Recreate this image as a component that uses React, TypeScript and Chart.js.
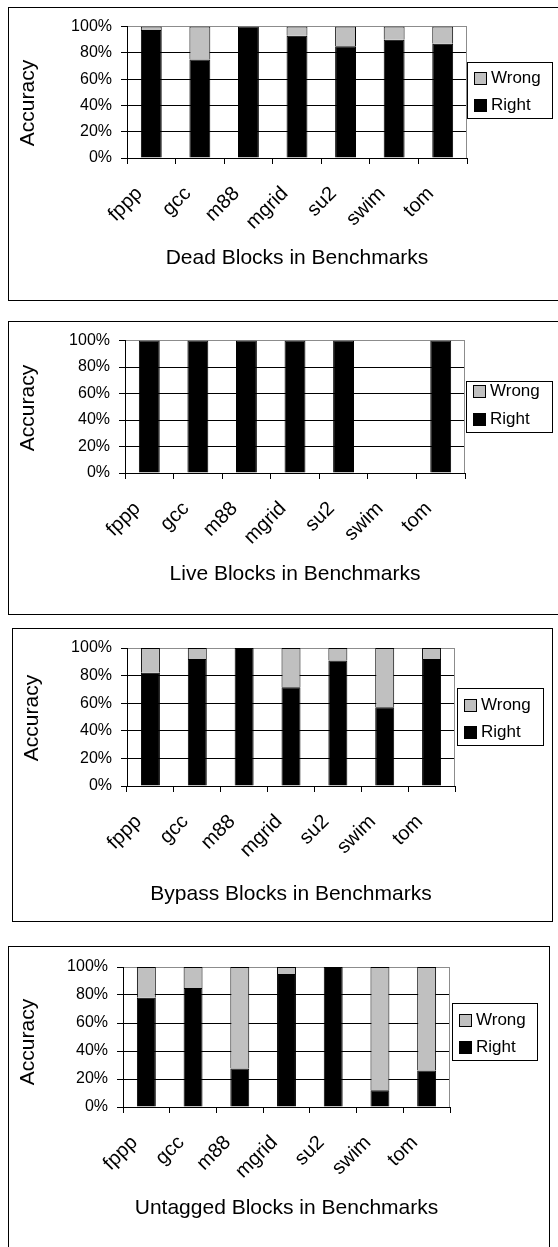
import React, { useEffect, useRef } from 'react';
import { Chart, registerables } from 'chart.js';

Chart.register(...registerables);

const FONT = '"Liberation Sans", Arial, Helvetica, sans-serif';

const categories = ['fppp', 'gcc', 'm88', 'mgrid', 'su2', 'swim', 'tom'];
const rightLabel = 'Right';
const wrongLabel = 'Wrong';
const yTicks = [0, 20, 40, 60, 80, 100];
const yAxisTitle = 'Accuracy';

const deadTitle = 'Dead Blocks in Benchmarks';
const deadRight = [97.5, 75, 100, 93, 85, 90, 87];
const deadWrong = [2.5, 25, 0, 7, 15, 10, 13];

const liveTitle = 'Live Blocks in Benchmarks';
const liveRight = [100, 100, 100, 100, 100, 0, 100];
const liveWrong = [0, 0, 0, 0, 0, 0, 0];

const bypassTitle = 'Bypass Blocks in Benchmarks';
const bypassRight = [82, 92, 100, 71.5, 91, 57, 92];
const bypassWrong = [18, 8, 0, 28.5, 9, 43, 8];

const untaggedTitle = 'Untagged Blocks in Benchmarks';
const untaggedRight = [78, 85, 27.5, 95, 100, 12, 26];
const untaggedWrong = [22, 15, 72.5, 5, 0, 88, 74];

const RIGHT_COLOR = '#000000';
const WRONG_COLOR = '#c0c0c0';
const PAGE_W = 558;
const PAGE_H = 1247;

type Rect = { l: number; t: number; r: number; b: number };
type Layout = {
  box: Rect;
  plot: Rect;
  legend: Rect & { row1: number; row2: number };
  yTitle: { x: number; y: number };
  titleY: number;
  barPct: number;
};

const layouts: Layout[] = [
  {
    box: { l: 8, t: 7, r: 570, b: 301 },
    plot: { l: 127, t: 25, r: 467, b: 158 },
    legend: { l: 467, t: 62, r: 552, b: 118, row1: 77.5, row2: 104.5 },
    yTitle: { x: 28, y: 103 },
    titleY: 258,
    barPct: 0.43,
  },
  {
    box: { l: 8, t: 321, r: 570, b: 615 },
    plot: { l: 125, t: 339, r: 465, b: 473 },
    legend: { l: 466, t: 381, r: 552, b: 432, row1: 390.5, row2: 418.5 },
    yTitle: { x: 28, y: 408 },
    titleY: 574,
    barPct: 0.43,
  },
  {
    box: { l: 12, t: 628, r: 553, b: 922 },
    plot: { l: 127, t: 648, r: 455, b: 786 },
    legend: { l: 457, t: 688, r: 543, b: 745, row1: 704.5, row2: 731.5 },
    yTitle: { x: 32, y: 718 },
    titleY: 894.5,
    barPct: 0.405,
  },
  {
    box: { l: 8, t: 946, r: 550, b: 1252 },
    plot: { l: 123, t: 967, r: 450, b: 1107 },
    legend: { l: 452, t: 1003, r: 537, b: 1060, row1: 1019.5, row2: 1046.5 },
    yTitle: { x: 28, y: 1042 },
    titleY: 1208,
    barPct: 0.405,
  },
];

const panels = [
  { title: deadTitle, right: deadRight, wrong: deadWrong },
  { title: liveTitle, right: liveRight, wrong: liveWrong },
  { title: bypassTitle, right: bypassRight, wrong: bypassWrong },
  { title: untaggedTitle, right: untaggedRight, wrong: untaggedWrong },
];

const decorPlugin = {
  id: 'decor',
  afterDraw(chart: any, _args: any, opts: any) {
    const ctx = chart.ctx as CanvasRenderingContext2D;
    const area = chart.chartArea;
    const { ox, oy, legend, yTitle } = opts;
    ctx.save();
    // gray plot border on the right
    ctx.strokeStyle = '#8c8c8c';
    ctx.lineWidth = 1;
    const rx = Math.round(area.right) - 0.5;
    ctx.beginPath();
    ctx.moveTo(rx, Math.round(area.top));
    ctx.lineTo(rx, Math.round(area.bottom));
    ctx.stroke();

    // y axis title
    ctx.fillStyle = '#000';
    ctx.font = `21px ${FONT}`;
    ctx.textAlign = 'center';
    ctx.textBaseline = 'middle';
    ctx.translate(yTitle.x - ox, yTitle.y - oy);
    ctx.rotate(-Math.PI / 2);
    ctx.fillText(yAxisTitle, 0, 0);
    ctx.restore();

    // legend box
    ctx.save();
    const lx = Math.round(legend.l - ox) + 0.5;
    const ly = Math.round(legend.t - oy) + 0.5;
    const lw = Math.round(legend.r - legend.l);
    const lh = Math.round(legend.b - legend.t);
    ctx.fillStyle = '#fff';
    ctx.fillRect(lx, ly, lw, lh);
    ctx.strokeStyle = '#000';
    ctx.lineWidth = 1;
    ctx.strokeRect(lx, ly, lw, lh);
    const items = [...chart.data.datasets].reverse();
    const rows = [legend.row1, legend.row2];
    ctx.font = `17px ${FONT}`;
    ctx.textAlign = 'left';
    ctx.textBaseline = 'middle';
    items.forEach((ds: any, i: number) => {
      const cy = rows[i] - oy;
      const sx = Math.round(legend.l - ox + 7) + 0.5;
      const sy = Math.round(cy - 6) + 0.5;
      ctx.fillStyle = ds.backgroundColor;
      ctx.fillRect(sx, sy, 12, 12);
      ctx.strokeStyle = '#000';
      ctx.strokeRect(sx, sy, 12, 12);
      ctx.fillStyle = '#000';
      ctx.fillText(ds.label, legend.l - ox + 24, cy + 1);
    });
    ctx.restore();
  },
};

function BarPanel({ title, right, wrong, layout }: { title: string; right: number[]; wrong: number[]; layout: Layout }) {
  const ref = useRef<HTMLCanvasElement | null>(null);
  const { box, plot, legend, yTitle, titleY, barPct } = layout;
  const cl = box.l + 1;
  const ct = box.t + 1;
  const cr = Math.min(box.r - 1, PAGE_W);
  const cb = Math.min(box.b - 1, PAGE_H);
  const W = cr - cl;
  const H = cb - ct;

  useEffect(() => {
    if (!ref.current) return;
    const titleSize = 21;
    const xAxisH = titleY + (titleSize * 1.2) / 2 - plot.b;
    const yAxisW = plot.l - cl;
    const padTop = plot.t - ct;
    const padRight = cr - plot.r;
    const padBottom = Math.max(0, cb - plot.b - xAxisH);

    const chart = new Chart(ref.current, {
      type: 'bar',
      data: {
        labels: categories,
        datasets: [
          {
            label: rightLabel,
            data: right,
            backgroundColor: RIGHT_COLOR,
            borderColor: '#000',
            borderWidth: 1,
            barPercentage: barPct,
            categoryPercentage: 1,
          },
          {
            label: wrongLabel,
            data: wrong,
            backgroundColor: WRONG_COLOR,
            borderColor: '#000',
            borderWidth: 1,
            barPercentage: barPct,
            categoryPercentage: 1,
          },
        ],
      },
      options: {
        responsive: false,
        animation: false,
        devicePixelRatio: 1,
        layout: { padding: { top: padTop, right: padRight, bottom: padBottom, left: 0 } },
        plugins: {
          legend: { display: false },
          tooltip: { enabled: false },
          title: { display: false },
          decor: { ox: cl, oy: ct, legend, yTitle },
        } as any,
        scales: {
          x: {
            stacked: true,
            offset: true,
            grid: {
              display: true,
              drawOnChartArea: false,
              drawTicks: true,
              tickLength: 6,
              color: '#000',
              lineWidth: 1,
              offset: true,
            },
            border: { display: true, color: '#000', width: 1 },
            ticks: {
              color: '#000',
              font: { family: FONT, size: 20 },
              minRotation: 45,
              maxRotation: 45,
              autoSkip: false,
              labelOffset: -12,
              padding: 18,
            },
            title: {
              display: true,
              text: title,
              color: '#000',
              font: { family: FONT, size: titleSize },
              padding: 0,
            },
            afterFit: (s: any) => {
              s.height = xAxisH;
            },
          },
          y: {
            stacked: true,
            min: 0,
            max: 100,
            afterBuildTicks: (s: any) => {
              s.ticks = yTicks.map((v) => ({ value: v }));
            },
            ticks: {
              color: '#000',
              font: { family: FONT, size: 16 },
              padding: 9,
              callback: (v: any) => `${v}%`,
            },
            grid: {
              color: (c: any) => (c.tick && c.tick.value === 100 ? '#8c8c8c' : '#000'),
              tickColor: '#000',
              tickLength: 6,
              lineWidth: 1,
            },
            border: { display: true, color: '#000', width: 1 },
            afterFit: (s: any) => {
              s.width = yAxisW;
            },
          },
        },
      },
      plugins: [decorPlugin],
    });
    return () => chart.destroy();
  }, []);

  return (
    <>
      <div
        style={{
          position: 'absolute',
          left: box.l,
          top: box.t,
          width: box.r - box.l,
          height: box.b - box.t,
          border: '1px solid #000',
          boxSizing: 'border-box',
          background: '#fff',
        }}
      />
      <canvas
        ref={ref}
        width={W}
        height={H}
        style={{ position: 'absolute', left: cl, top: ct, width: W, height: H, display: 'block' }}
      />
    </>
  );
}

export default function App() {
  return (
    <div
      style={{
        position: 'absolute',
        left: 0,
        top: 0,
        width: PAGE_W,
        height: PAGE_H,
        overflow: 'hidden',
        background: '#fff',
      }}
    >
      {panels.map((p, i) => (
        <BarPanel key={i} title={p.title} right={p.right} wrong={p.wrong} layout={layouts[i]} />
      ))}
    </div>
  );
}
